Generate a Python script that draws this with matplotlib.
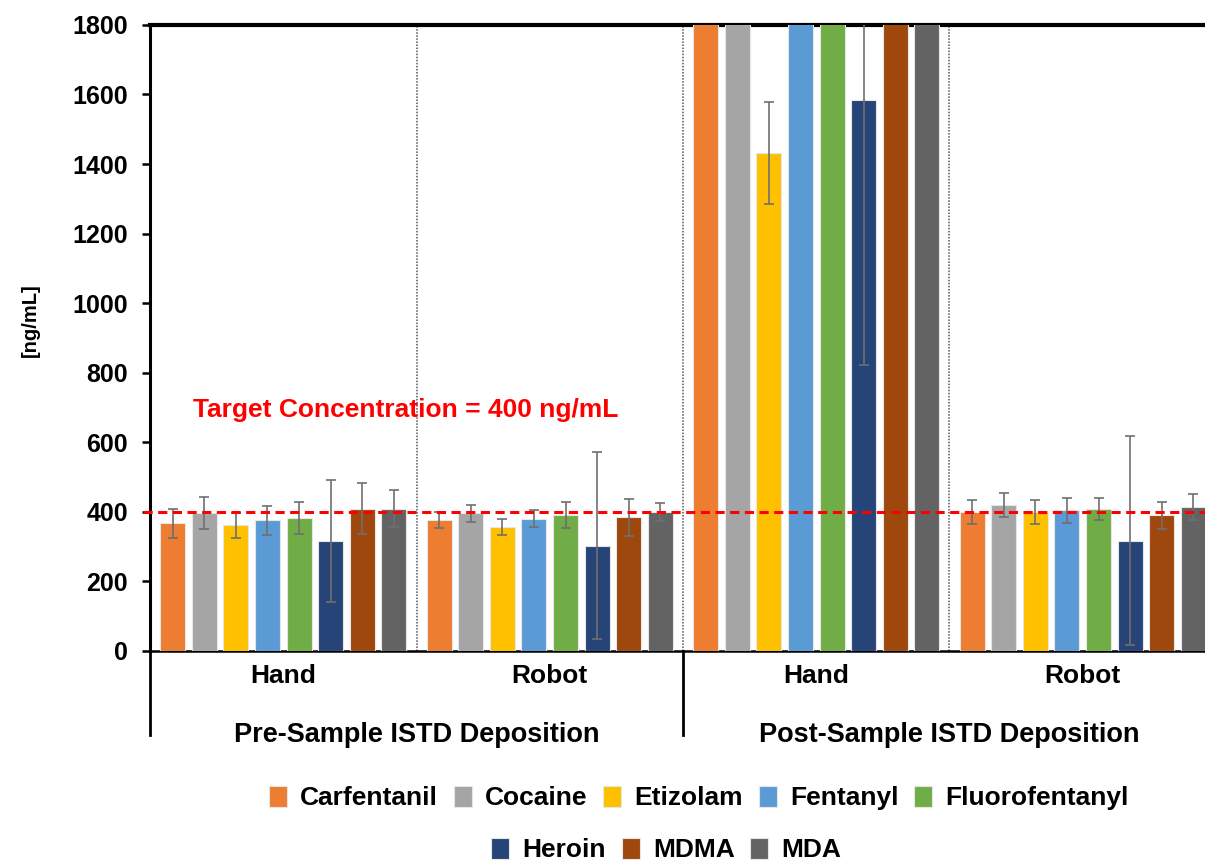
import numpy as np
import matplotlib
matplotlib.use('Agg')
import matplotlib.pyplot as plt
from matplotlib.patches import Patch

plt.rcParams['font.family'] = ['Liberation Sans', 'DejaVu Sans']
plt.rcParams['font.weight'] = 'bold'

# Analytes and their colours
analytes = ['Carfentanil', 'Cocaine', 'Etizolam', 'Fentanyl', 'Fluorofentanyl',
            'Heroin', 'MDMA', 'MDA']
colors = ['#ED7D31', '#A5A5A5', '#FFC000', '#5B9BD5', '#70AD47',
          '#264478', '#9E480E', '#636363']

# Sub-groups (method) and top-level groups (deposition)
methods = ['Hand', 'Robot', 'Hand', 'Robot']
depositions = ['Pre-Sample ISTD Deposition', 'Post-Sample ISTD Deposition']

# Mean concentration [ng/mL], one list per sub-group (analyte order)
preHand = [367, 398, 361, 376, 381, 317, 409, 409]
preRobot = [377, 396, 356, 380, 390, 303, 384, 400]
postHand = [2400, 2600, 1432, 2300, 2500, 1585, 2200, 2700]
postRobot = [399, 419, 399, 404, 409, 317, 390, 414]

# Standard deviations
preHandErr = [42, 46, 37, 42, 46, 176, 73, 54]
preRobotErr = [23, 24, 22, 24, 37, 268, 54, 26]
postHandErr = [300, 300, 146, 300, 300, 763, 300, 300]
postRobotErr = [34, 34, 35, 37, 32, 300, 38, 38]

means = np.array([preHand, preRobot, postHand, postRobot])
errs = np.array([preHandErr, preRobotErr, postHandErr, postRobotErr])

target = 400
yTicks = np.arange(0, 1801, 200)

fig = plt.figure(figsize=(12.05, 8.63), dpi=100)
ax = fig.add_axes([0.1245, 0.2457, 0.8846, 0.7254])

nGroups = len(methods)
nBars = len(analytes)
slot = 0.1186
barWidth = 0.094
centers = np.arange(nGroups) + 0.5

for i, (name, col) in enumerate(zip(analytes, colors)):
    xs = centers + (i - (nBars - 1) / 2) * slot
    ax.bar(xs, means[:, i], width=barWidth, color=col, edgecolor='#e6e6e6',
           linewidth=0.8, zorder=3)
    ax.errorbar(xs, means[:, i], yerr=errs[:, i], fmt='none', ecolor='#6f6f6f',
                elinewidth=1.2, capsize=3.5, capthick=1.2, zorder=4)

# Target concentration line
ax.axhline(target, xmin=-0.007, xmax=1, color='#FF0000', lw=2.2,
           linestyle=(0, (3, 1.8)), zorder=5, clip_on=False)
ax.text(0.161, 693, 'Target Concentration = 400 ng/mL', color='#FF0000',
        fontsize=19, fontweight='bold', va='center', ha='left', zorder=6)

# Dotted separators between sub-groups
for xb in range(1, nGroups):
    ax.axvline(xb, color='#555555', lw=1.1, linestyle=(0, (1, 1)), zorder=2)

ax.set_xlim(0, nGroups)
ax.set_ylim(0, 1800)
ax.set_yticks(yTicks)
ax.set_xticks([])
ax.tick_params(axis='y', direction='out', length=6, width=1.8, pad=10,
               labelsize=18)
for lab in ax.get_yticklabels():
    lab.set_fontweight('bold')

ax.spines['top'].set_linewidth(3)
ax.spines['left'].set_linewidth(2.2)
ax.spines['bottom'].set_linewidth(1.8)
ax.spines['right'].set_visible(False)
for sp in ax.spines.values():
    sp.set_zorder(2)

# Two-level category axis
trans = ax.get_xaxis_transform()
for xc, m in zip(centers, methods):
    ax.text(xc, -0.04, m, transform=trans, ha='center', va='center',
            fontsize=19, fontweight='bold')
for k, d in enumerate(depositions):
    ax.text(2 * k + 1, -0.134, d, transform=trans, ha='center', va='center',
            fontsize=19.5, fontweight='bold')
for xb in [0, 2, 4]:
    ax.plot([xb, xb], [0, -0.134], transform=trans, color='black', lw=2,
            clip_on=False)

fig.text(30 / 1205, (863 - 320) / 863, '[ng/mL]', rotation=90, ha='center',
         va='center', fontsize=14.5, fontweight='bold')

# Legend in two rows
handles = [Patch(facecolor=c, edgecolor='#e6e6e6', linewidth=0.8) for c in colors]
legKw = dict(frameon=False, fontsize=19, handlelength=0.68, handleheight=0.85,
             handletextpad=0.5, columnspacing=0.6, borderaxespad=0, loc='center')
leg1 = fig.legend(handles[:5], analytes[:5], ncol=5,
                  bbox_to_anchor=(0.58, 0.0753), **legKw)
leg2 = fig.legend(handles[5:], analytes[5:], ncol=3,
                  bbox_to_anchor=(0.553, 0.015), **legKw)
for leg in (leg1, leg2):
    for t in leg.get_texts():
        t.set_fontweight('bold')

fig.savefig('out.png', dpi=100)
